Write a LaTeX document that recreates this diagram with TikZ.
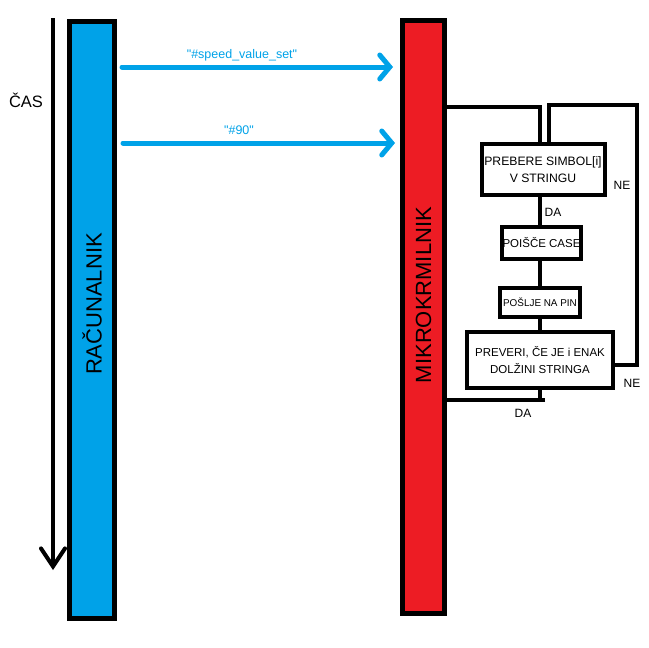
\documentclass[tikz,border=0pt]{standalone}
\usepackage{fontspec}
\setmainfont{Liberation Sans}[Ligatures=TeXOff]
\usetikzlibrary{arrows.meta}
\definecolor{pblue}{HTML}{00A2E8}
\definecolor{pred}{HTML}{ED1C24}
\begin{document}
\begin{tikzpicture}[x=1pt,y=-1pt,
  bar/.style={draw=black, line width=5pt, inner sep=0pt},
  barlabel/.style={rotate=90, inner sep=0pt, font=\fontsize{22}{24}\selectfont},
  box/.style={draw=black, line width=4pt, inner sep=0pt, align=center, font=\fontsize{11.5}{17}\selectfont},
  flow/.style={line width=4pt},
  msg/.style={draw=pblue, line width=5pt, line cap=round, -{Straight Barb[length=10pt,width=24pt,line cap=round]}},
  msglabel/.style={text=pblue, inner sep=0pt, font=\fontsize{12.5}{14}\selectfont},
  lbl/.style={inner sep=0pt, font=\fontsize{12}{14}\selectfont}]
\useasboundingbox (0,0) rectangle (649,648);
% bars
\node[bar, fill=pblue, minimum width=45pt, minimum height=597pt] (pc) at (92,320) {};
\node[bar, fill=pred, minimum width=42pt, minimum height=593pt] (mc) at (423.5,317) {};
\node[barlabel] (pctext) at (92,304) {RAČUNALNIK};
\node[barlabel] (mctext) at (423.5,295) {MIKROKRMILNIK};
% time axis
\coordinate (tt) at (53,18);
\coordinate (tb) at (53,570);
\draw[line width=4pt, -{Straight Barb[length=18pt,width=24pt,line cap=round]}] (tt) -- (tb);
\node[inner sep=0pt, font=\fontsize{16.5}{18}\selectfont] (cas) at (26,100) {ČAS};
% messages
\draw[msg] ([xshift=5pt]pc.east |- 0,67) -- ([xshift=-7pt]mc.west |- 0,67);
\draw[msg] ([xshift=6pt]pc.east |- 0,143) -- ([xshift=-5pt]mc.west |- 0,143);
\node[msglabel] (m1) at (242,55) {"\#speed\_value\_set"};
\node[msglabel] (m2) at (239,130) {"\#90"};
% flowchart
\node[box, minimum width=123pt, minimum height=51pt, font=\fontsize{12.2}{17}\selectfont] (b1) at (543,169.5) {PREBERE SIMBOL[i]\\V STRINGU};
\node[box, minimum width=79pt, minimum height=32pt] (b2) at (541.5,243) {POIŠČE CASE};
\node[box, minimum width=80pt, minimum height=29pt, font=\fontsize{9.9}{12}\selectfont] (b3) at (540,302.5) {POŠLJE NA PIN};
\node[box, minimum width=146pt, minimum height=56pt] (b4) at (540,360) {PREVERI, ČE JE i ENAK\\DOLŽINI STRINGA};
\coordinate (ne) at (637,105);
\draw[flow] (mc.east |- 0,107) -| ([xshift=-3pt]b1.north);
\draw[flow] ([xshift=6pt]b1.north) |- (ne) |- ([yshift=-5pt]b4.east);
\draw[flow] (b1.south -| b3.north) -- (b2.north -| b3.north);
\draw[flow] (b2.south -| b3.north) -- (b3.north);
\draw[flow] (b3.south) -- (b4.north);
\draw[flow] (b4.south) -- (b4.south |- 0,400);
\draw[flow] ([xshift=5pt]b4.south |- 0,400) -- (mc.east |- 0,400);
\node[lbl] (da1) at (553,212) {DA};
\node[lbl] (ne1) at (622,185) {NE};
\node[lbl] (da2) at (523,413) {DA};
\node[lbl] (ne2) at (632,383) {NE};
\end{tikzpicture}
\end{document}
